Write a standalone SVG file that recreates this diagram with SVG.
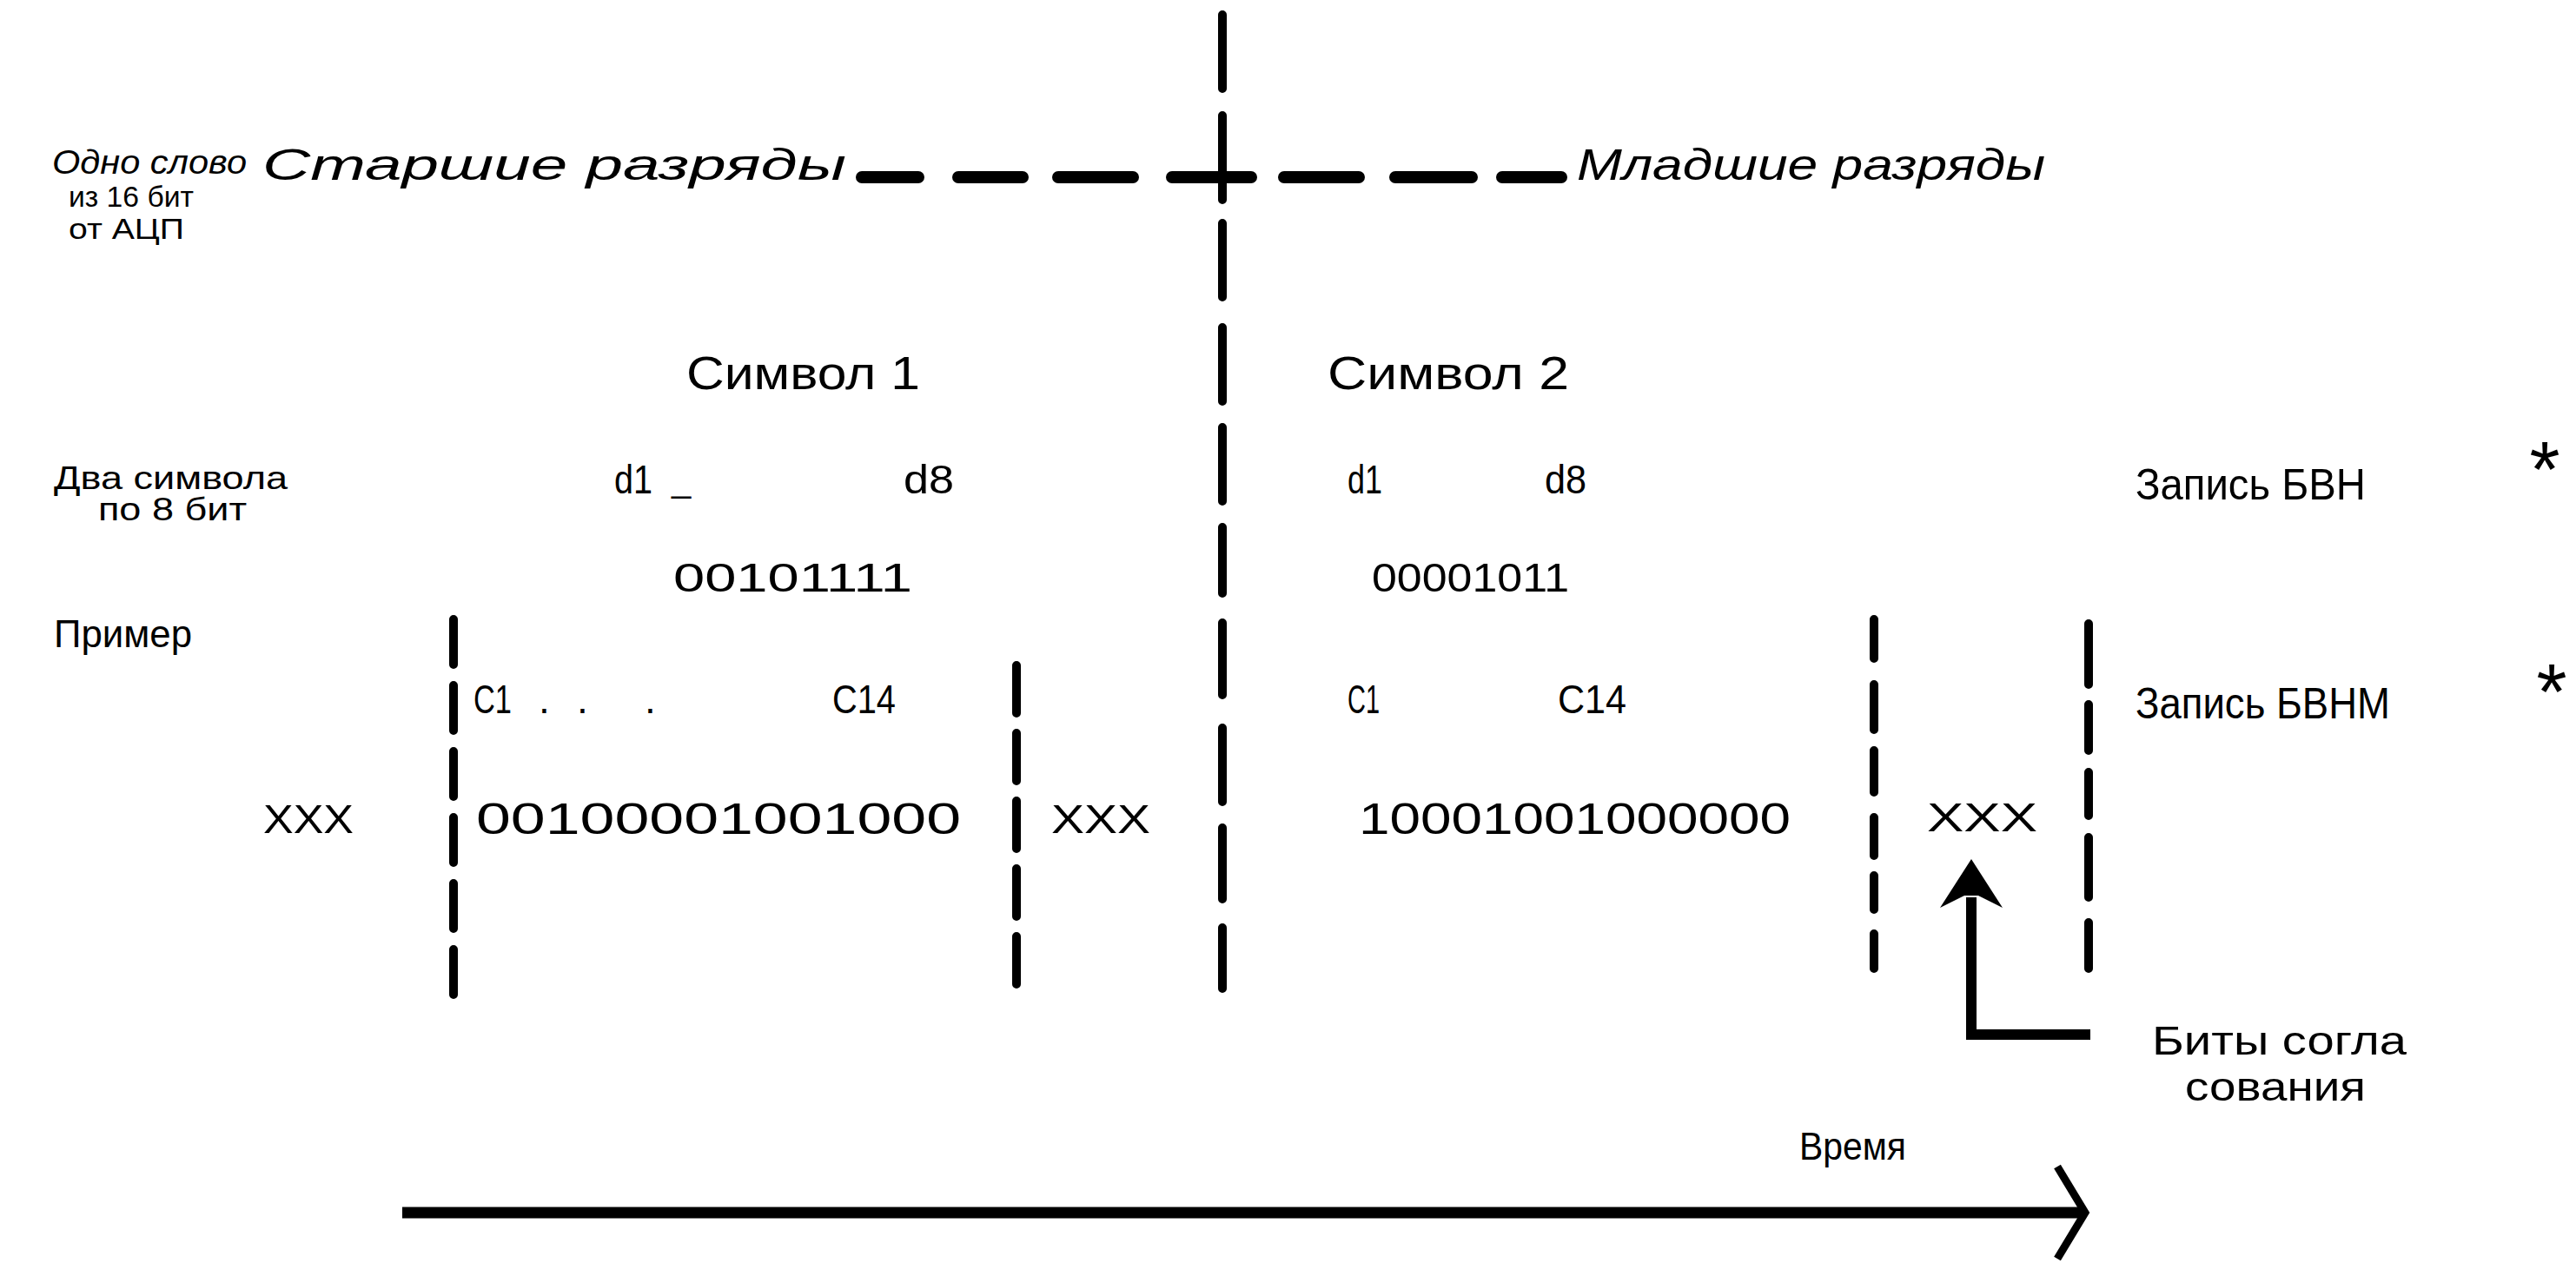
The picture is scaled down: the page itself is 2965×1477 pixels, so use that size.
<svg xmlns="http://www.w3.org/2000/svg" width="2965" height="1477" viewBox="0 0 2965 1477">
<style>
text{font-family:'Liberation Sans',Arial,sans-serif;fill:#000}
.it{font-style:italic}
.div{stroke:#000;stroke-width:10;fill:none;stroke-linecap:round}
.hd{stroke:#000;stroke-width:14;fill:none;stroke-linecap:round}
.conn{stroke:#000;fill:none}
.star{font-size:90px}
</style>
<defs>
<marker id="headFilled" markerUnits="userSpaceOnUse" orient="auto" refX="0" refY="0" markerWidth="100" markerHeight="100" overflow="visible">
<path d="M 44 0 L -12 -36 L 2 -8 L 2 8 L -12 36 Z" fill="#000"/>
</marker>
<marker id="headOpen" markerUnits="userSpaceOnUse" orient="auto" refX="0" refY="0" markerWidth="100" markerHeight="100" overflow="visible">
<path d="M -32 -53 L 0 0 L -32 53" fill="none" stroke="#000" stroke-width="9" stroke-linejoin="miter"/>
</marker>
</defs>
<rect width="2965" height="1477" fill="#fff"/>

<g id="dividers">
<path class="hd" d="M 992 204 H 1057 M 1103 204 H 1177 M 1218 204 H 1304 M 1349 204 H 1440 M 1478 204 H 1564 M 1606 204 H 1694 M 1729 204 H 1797"/>
<path class="div" d="M 1407 17 V 102 M 1407 133 V 230 M 1407 257 V 342 M 1407 377 V 462 M 1407 492 V 577 M 1407 607 V 683 M 1407 717 V 800 M 1407 838 V 923 M 1407 953 V 1035 M 1407 1068 V 1138"/>
<path class="div" d="M 522 713 V 765 M 522 789 V 841 M 522 865 V 917 M 522 941 V 993 M 522 1017 V 1069 M 522 1093 V 1145"/>
<path class="div" d="M 1170 766 V 821 M 1170 844 V 899 M 1170 922 V 977 M 1170 1000 V 1055 M 1170 1078 V 1133"/>
<path class="div" d="M 2157 713 V 758 M 2157 788 V 840 M 2157 864 V 912 M 2157 941 V 985 M 2157 1008 V 1047 M 2157 1075 V 1115"/>
<path class="div" d="M 2404 718 V 788 M 2404 811 V 864 M 2404 889 V 939 M 2404 964 V 1033 M 2404 1062 V 1115"/>
</g>

<g id="connectors">
<path class="conn" stroke-width="12" d="M 2406 1191 H 2269 V 1033" marker-end="url(#headFilled)"/>
<path class="conn" stroke-width="13" d="M 463 1396 H 2400" marker-end="url(#headOpen)"/>
</g>

<g id="word-label">
<text class="it" x="60" y="200" font-size="38" textLength="224" lengthAdjust="spacingAndGlyphs">Одно слово</text>
<text x="79" y="238" font-size="33" textLength="144" lengthAdjust="spacingAndGlyphs">из 16 бит</text>
<text x="79" y="275" font-size="33" textLength="133" lengthAdjust="spacingAndGlyphs">от АЦП</text>
</g>
<g id="msb-label"><text class="it" x="302" y="207" font-size="50" textLength="672" lengthAdjust="spacingAndGlyphs">Старшие разряды</text></g>
<g id="lsb-label"><text class="it" x="1815" y="207" font-size="50" textLength="539" lengthAdjust="spacingAndGlyphs">Младшие разряды</text></g>

<g id="symbol1">
<text x="790" y="448" font-size="54" textLength="269" lengthAdjust="spacingAndGlyphs">Символ 1</text>
<text x="707" y="568" font-size="46" textLength="44" lengthAdjust="spacingAndGlyphs">d1</text>
<text x="773" y="566" font-size="40">_</text>
<text x="1040" y="568" font-size="46" textLength="58" lengthAdjust="spacingAndGlyphs">d8</text>
<text x="775" y="681" font-size="46" textLength="275" lengthAdjust="spacingAndGlyphs">00101111</text>
</g>
<g id="symbol2">
<text x="1528" y="448" font-size="54" textLength="278" lengthAdjust="spacingAndGlyphs">Символ 2</text>
<text x="1551" y="568" font-size="46" textLength="40" lengthAdjust="spacingAndGlyphs">d1</text>
<text x="1778" y="568" font-size="46" textLength="48" lengthAdjust="spacingAndGlyphs">d8</text>
<text x="1579" y="681" font-size="46" textLength="227" lengthAdjust="spacingAndGlyphs">00001011</text>
</g>
<g id="two-symbols-label">
<text x="62" y="563" font-size="37" textLength="269" lengthAdjust="spacingAndGlyphs">Два символа</text>
<text x="113" y="599" font-size="37" textLength="171" lengthAdjust="spacingAndGlyphs">по 8 бит</text>
</g>
<g id="example-label"><text x="62" y="745" font-size="44" textLength="159" lengthAdjust="spacingAndGlyphs">Пример</text></g>

<g id="bvn-label">
<text x="2458" y="575" font-size="50" textLength="265" lengthAdjust="spacingAndGlyphs">Запись БВН</text>
<text class="star" x="2929" y="572" text-anchor="middle">*</text>
</g>
<g id="bvnm-label">
<text x="2458" y="827" font-size="50" textLength="293" lengthAdjust="spacingAndGlyphs">Запись БВНМ</text>
<text class="star" x="2937" y="828" text-anchor="middle">*</text>
</g>

<g id="code1">
<text x="545" y="821" font-size="46" textLength="44" lengthAdjust="spacingAndGlyphs">С1</text>
<text font-size="46" y="821"><tspan x="620">.</tspan><tspan x="664">.</tspan><tspan x="742">.</tspan></text>
<text x="958" y="821" font-size="46" textLength="73" lengthAdjust="spacingAndGlyphs">С14</text>
<text x="548" y="960" font-size="50" textLength="558" lengthAdjust="spacingAndGlyphs">00100001001000</text>
</g>
<g id="code2">
<text x="1551" y="821" font-size="46" textLength="37" lengthAdjust="spacingAndGlyphs">С1</text>
<text x="1793" y="821" font-size="46" textLength="79" lengthAdjust="spacingAndGlyphs">С14</text>
<text x="1564" y="960" font-size="50" textLength="497" lengthAdjust="spacingAndGlyphs">10001001000000</text>
</g>
<g id="sync-left"><text x="303" y="959" font-size="46" textLength="104" lengthAdjust="spacingAndGlyphs">XXX</text></g>
<g id="sync-mid"><text x="1210" y="959" font-size="46" textLength="114" lengthAdjust="spacingAndGlyphs">XXX</text></g>
<g id="sync-right"><text x="2218" y="957" font-size="46" textLength="127" lengthAdjust="spacingAndGlyphs">XXX</text></g>

<g id="sync-bits-label">
<text x="2477" y="1214" font-size="46" textLength="293" lengthAdjust="spacingAndGlyphs">Биты согла</text>
<text x="2515" y="1267" font-size="46" textLength="208" lengthAdjust="spacingAndGlyphs">сования</text>
</g>
<g id="time-label"><text x="2071" y="1335" font-size="44" textLength="123" lengthAdjust="spacingAndGlyphs">Время</text></g>
</svg>
